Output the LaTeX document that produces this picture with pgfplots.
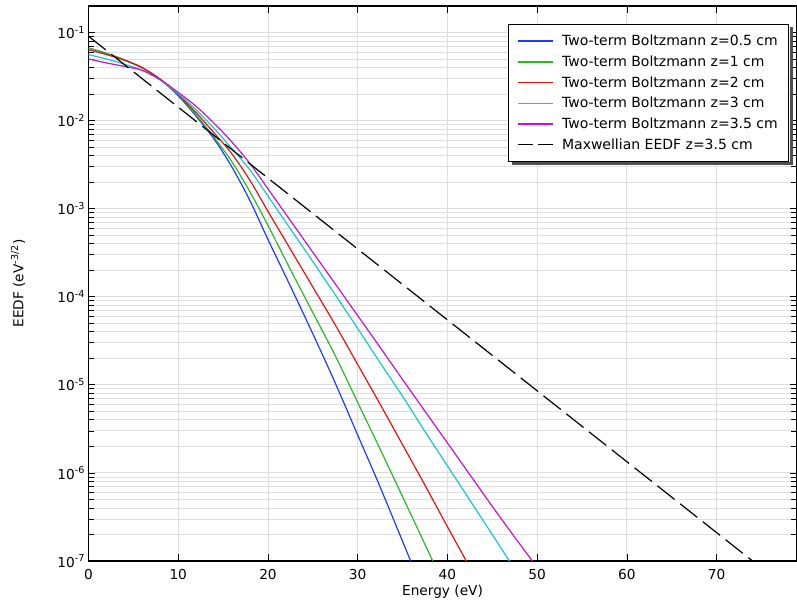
\documentclass[border=0pt]{standalone}
\usepackage{fontspec}
\setmainfont{DejaVu Sans}
\usepackage{pgfplots}
\pgfplotsset{compat=1.18}

\definecolor{cblue}{RGB}{30,60,255}
\definecolor{cgreen}{RGB}{40,185,40}
\definecolor{cred}{RGB}{225,20,20}
\definecolor{ccyan}{RGB}{20,200,210}
\definecolor{cmag}{RGB}{200,20,200}
\definecolor{gridc}{RGB}{222,222,222}
\definecolor{shad}{RGB}{80,80,80}

\newcommand{\fs}{\fontsize{13.7}{16}\selectfont}
\newcommand{\fl}{\fontsize{14}{16.5}\selectfont}

\begin{document}
\begin{tikzpicture}
\begin{axis}[
  scale only axis, width=708pt, height=555pt,
  xmin=0, xmax=78.9,
  ymode=log, ymin=1e-7, ymax=0.2,
  xtick={0,10,20,30,40,50,60,70},
  ytick={1e-7,1e-6,1e-5,1e-4,1e-3,1e-2,1e-1},
  yticklabels={10\textsuperscript{-7},10\textsuperscript{-6},10\textsuperscript{-5},10\textsuperscript{-4},10\textsuperscript{-3},10\textsuperscript{-2},10\textsuperscript{-1}},
  /pgf/number format/assume math mode=true,
  tick align=inside,
  major tick length=7pt, minor tick length=6pt,
  tick style={black, line width=0.8pt},
  axis line style={black, line width=1.2pt},
  grid=both,
  major grid style={gridc, line width=0.9pt},
  minor grid style={gridc, line width=0.9pt},
  ticklabel style={font=\fs},
  xticklabel style={yshift=-5pt},
  label style={font=\fs},
  xlabel={Energy (eV)},
  ylabel={EEDF (eV\textsuperscript{-3/2})},
  xlabel style={at={(axis description cs:0.5,-0.0559)}, anchor=center},
  ylabel style={at={(axis description cs:-0.0996,0.5)}, anchor=center},
  legend cell align=left,
  legend style={name=leg, at={(axis description cs:0.9898,0.9676)}, anchor=north east,
    draw=black, line width=1pt, fill=white, font=\fl,
    row sep=4.6pt, inner xsep=9pt, inner ysep=8.5pt},
  legend image code/.code={\draw[#1, line width=1.5pt] (0pt,0pt) -- (35pt,0pt); \path (41pt,0pt);},
  every axis plot/.append style={line width=1.2pt},
]
\addplot[cblue, smooth] coordinates {
(0,6.68e-2) (2,5.79e-2) (4,4.90e-2) (6,3.98e-2) (8,2.92e-2) (10,1.91e-2)
(12,1.12e-2) (14,6.17e-3) (16,2.95e-3) (18,1.23e-3) (20,4.47e-4)
(22.5,1.318e-4) (25,3.80e-5) (27.5,1.047e-5) (30,2.69e-6) (32.5,6.92e-7) (35.9,1e-7)};
\addlegendentry{Two-term Boltzmann z=0.5 cm}
\addplot[cgreen, smooth] coordinates {
(0,6.68e-2) (2,5.79e-2) (4,4.90e-2) (6,3.98e-2) (8,2.95e-2) (10,1.95e-2)
(12,1.16e-2) (14,6.46e-3) (16,3.39e-3) (18,1.55e-3) (20,6.46e-4)
(22.5,2.04e-4) (25,6.61e-5) (27.5,2.14e-5) (30,6.31e-6) (32.5,1.86e-6)
(35,5.37e-7) (38.36,1e-7)};
\addlegendentry{Two-term Boltzmann z=1 cm}
\addplot[cred, smooth] coordinates {
(0,6.38e-2) (2,5.62e-2) (4,4.84e-2) (6,3.98e-2) (8,2.95e-2) (10,1.97e-2)
(12,1.23e-2) (14,7.24e-3) (16,4.17e-3) (18,2.09e-3) (20,9.33e-4)
(22.5,3.47e-4) (25,1.29e-4) (27.5,4.79e-5) (30,1.70e-5) (32.5,6.03e-6)
(35,2.09e-6) (37.5,7.24e-7) (40,2.45e-7) (42.1,1e-7)};
\addlegendentry{Two-term Boltzmann z=2 cm}
\addplot[ccyan, smooth] coordinates {
(0,5.61e-2) (2,5.01e-2) (4,4.37e-2) (6,3.72e-2) (8,2.88e-2) (10,2.02e-2)
(12,1.32e-2) (14,8.13e-3) (16,4.79e-3) (18,2.75e-3) (20,1.39e-3)
(22.5,5.89e-4) (25,2.51e-4) (27.5,1.05e-4) (30,4.37e-5) (32.5,1.778e-5)
(35,7.41e-6) (37.5,2.95e-6) (40,1.202e-6) (42.5,4.90e-7) (45,1.995e-7) (46.9,1e-7)};
\addlegendentry{Two-term Boltzmann z=3 cm}
\addplot[cmag, smooth] coordinates {
(0,5.01e-2) (2,4.52e-2) (4,4.12e-2) (6,3.72e-2) (8,2.92e-2) (10,2.09e-2)
(12,1.45e-2) (14,9.33e-3) (16,5.69e-3) (18,3.24e-3) (20,1.68e-3)
(22.5,7.33e-4) (25,3.20e-4) (27.5,1.40e-4) (30,6.10e-5) (32.5,2.66e-5)
(35,1.15e-5) (37.5,5.01e-6) (40,2.19e-6) (42.5,9.55e-7) (45,4.17e-7)
(47.5,1.86e-7) (49.47,1e-7)};
\addlegendentry{Two-term Boltzmann z=3.5 cm}
\addplot[black, dash pattern=on 22pt off 7pt,
  legend image code/.code={\draw[black, line width=1.5pt, dash pattern=on 15pt off 5pt] (0pt,0pt) -- (35pt,0pt); \path (41pt,0pt);}]
  coordinates {(0,9.08e-2) (10,1.42e-2) (74,1e-7)};
\addlegendentry{Maxwellian EEDF z=3.5 cm}
\end{axis}
\fill[shad] ([shift={(0.5pt,-3.5pt)}]leg.north east) rectangle ([shift={(3.5pt,-3.5pt)}]leg.south east);
\fill[shad] ([shift={(3.5pt,-0.5pt)}]leg.south west) rectangle ([shift={(3.5pt,-3.5pt)}]leg.south east);
\pgfresetboundingbox
\path ([shift={(-88.5pt,-42pt)}]current axis.south west) rectangle ([shift={(0.5pt,6pt)}]current axis.north east);
\end{tikzpicture}
\end{document}
